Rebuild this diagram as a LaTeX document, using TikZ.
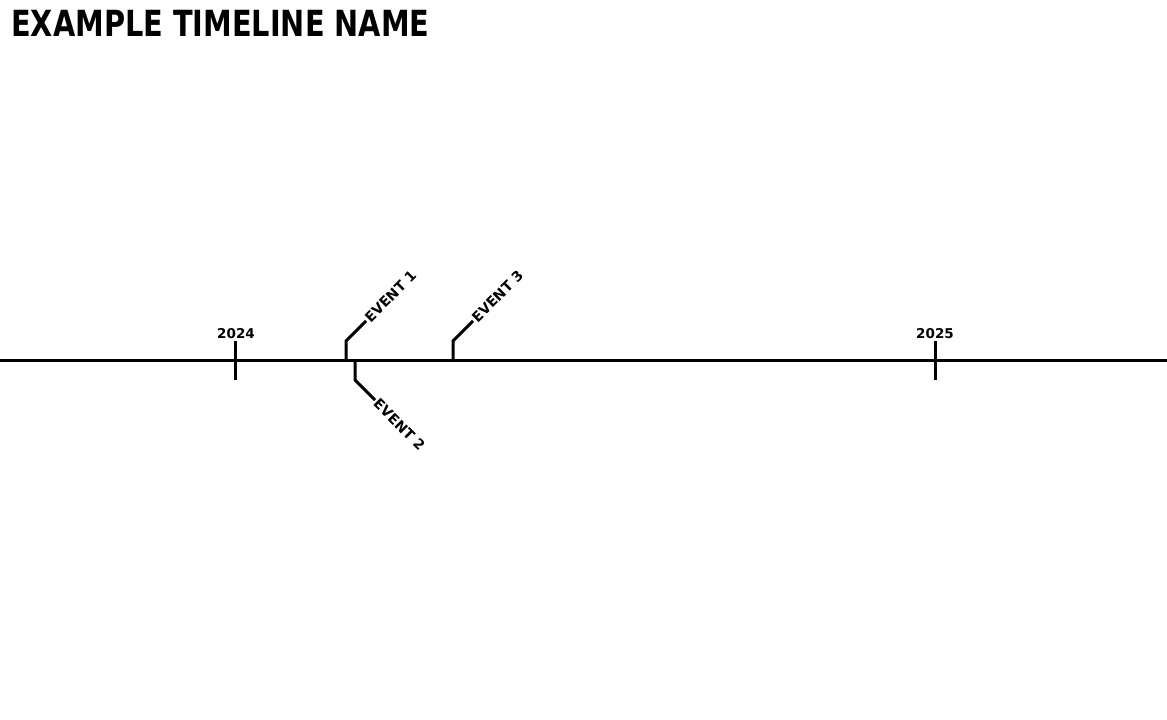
\documentclass[tikz,border=0pt]{standalone}
\usepackage{fontspec}
\setmainfont{DejaVu Sans}
\usepackage{graphicx}
\usetikzlibrary{positioning}

\begin{document}
\begin{tikzpicture}[
    x=1pt, y=-1pt,
    line/.style={line width=3pt, draw=black},
    title/.style={font=\fontsize{36}{36}\selectfont\bfseries, anchor=base west, inner sep=0pt},
    yearlabel/.style={font=\fontsize{13.5}{13.5}\selectfont\bfseries, anchor=base, inner sep=0pt},
    eventlabel/.style={font=\fontsize{14}{14}\selectfont\bfseries, anchor=west, inner sep=1.5pt}
  ]
    \useasboundingbox (0,0) rectangle (1167,720);

    \node[title] (name) at (11,36) {\scalebox{0.8}[1]{EXAMPLE TIMELINE NAME}};

    % axis
    \coordinate (axisL) at (0,360);
    \coordinate (axisR) at (1167,360);
    \draw[line] (axisL) -- (axisR);

    % years
    \coordinate (y24top) at (235,341);
    \coordinate (y24bot) at (235,380);
    \coordinate (y25top) at (935,341);
    \coordinate (y25bot) at (935,380);
    \draw[line] (y24top) -- (y24bot);
    \draw[line] (y25top) -- (y25bot);
    \node[yearlabel] (y24) at (236,338) {2024};
    \node[yearlabel] (y25) at (935,338) {2025};

    % events
    \coordinate (e1base) at (346,360);
    \coordinate (e1knee) at (346,341);
    \coordinate (e1end) at (366,321);
    \node[eventlabel, rotate=45] (e1) at (e1end) {EVENT 1};
    \draw[line] (e1base) -- (e1knee) -- (e1end);

    \coordinate (e2base) at (355,360);
    \coordinate (e2knee) at (355,380);
    \coordinate (e2end) at (375,400);
    \node[eventlabel, rotate=-45] (e2) at (e2end) {EVENT 2};
    \draw[line] (e2base) -- (e2knee) -- (e2end);

    \coordinate (e3base) at (453,360);
    \coordinate (e3knee) at (453,341);
    \coordinate (e3end) at (473,321);
    \node[eventlabel, rotate=45] (e3) at (e3end) {EVENT 3};
    \draw[line] (e3base) -- (e3knee) -- (e3end);
  \end{tikzpicture}
\end{document}
